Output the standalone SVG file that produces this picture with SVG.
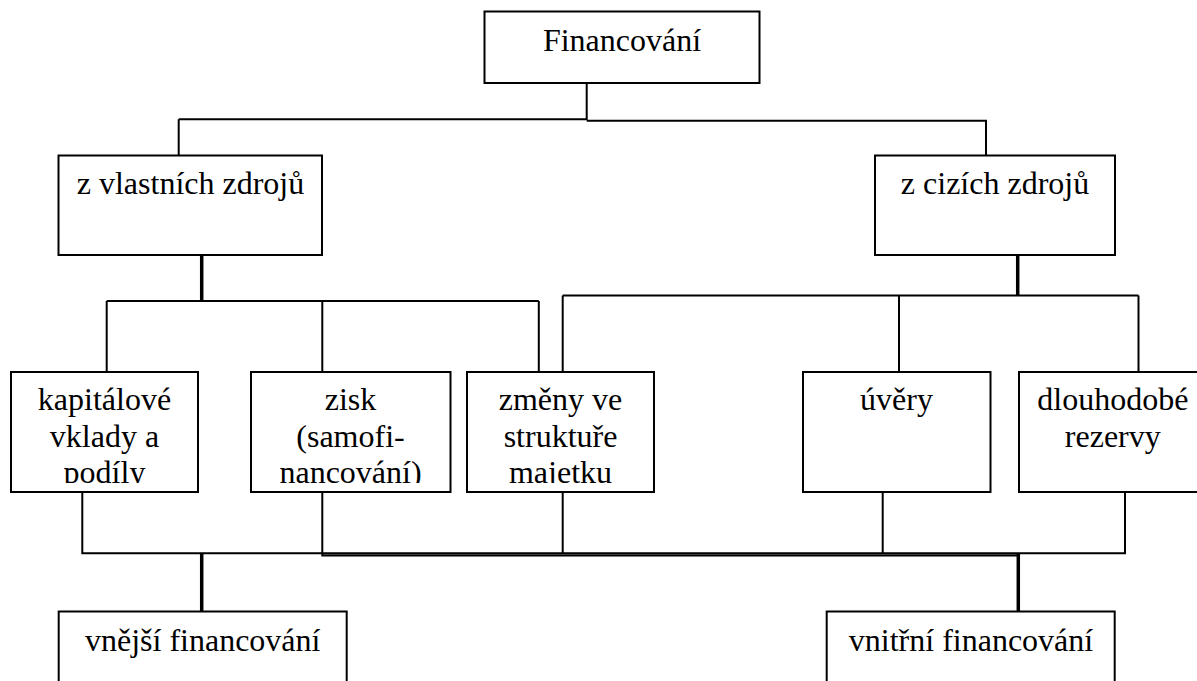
<svg xmlns="http://www.w3.org/2000/svg" width="1197" height="681" viewBox="0 0 1197 681">
<style>
.box{fill:#fff;stroke:#000;stroke-width:2}
.t{font-family:"Liberation Serif","Times New Roman",serif;font-size:32px;fill:#000;text-anchor:middle}
.ln{fill:none;stroke:#000;stroke-width:2}
.thk{fill:none;stroke:#000;stroke-width:3.5}
</style>
<defs>
<clipPath id="c1"><rect x="12" y="373" width="185" height="110"/></clipPath>
<clipPath id="c2"><rect x="252" y="373" width="197" height="110"/></clipPath>
<clipPath id="c3"><rect x="468" y="373" width="185" height="110"/></clipPath>
</defs>
<rect width="1197" height="681" fill="#fff"/>
<g id="connectors">
<path class="ln" d="M586.7,83 V120 M178.7,119.3 H586.7 M178.7,119.3 V155.5 M586.7,120.7 H986 V155.5"/>
<path class="thk" d="M201.7,251 V301"/>
<path class="ln" d="M106.7,301 H538.8 M106.7,301 V372 M322.3,301 V372 M538.8,301 V372"/>
<path class="thk" d="M1017.7,252 V295.5"/>
<path class="ln" d="M562.7,295.5 H1138.5 M562.7,295.5 V372 M899,295.5 V372 M1138.5,295.5 V372"/>
<path class="ln" d="M82.3,492 V553.3 H1125 V492 M322.3,492 V555.5 H1018.3 M562.7,492 V554 M882.7,492 V554"/>
<path class="thk" d="M201.7,553 V617"/>
<path class="thk" d="M1018.3,553 V617"/>
</g>
<g id="n-financovani">
<rect class="box" x="484.5" y="11.5" width="275" height="71.5"/>
<text class="t" x="622" y="50.7">Financování</text>
</g>
<g id="n-vlastni">
<rect class="box" x="58.5" y="155.5" width="263.5" height="99.5"/>
<text class="t" x="190.5" y="194.3">z vlastních zdrojů</text>
</g>
<g id="n-cizi">
<rect class="box" x="875" y="155.5" width="240" height="99.5"/>
<text class="t" x="995" y="194.3">z cizích zdrojů</text>
</g>
<g id="n-kapitalove">
<rect class="box" x="11" y="372" width="187" height="120"/>
<g clip-path="url(#c1)">
<text class="t" x="104.5" y="410">kapitálové</text>
<text class="t" x="104.5" y="446.7">vklady a</text>
<text class="t" x="104.5" y="483.4">podíly</text>
</g>
</g>
<g id="n-zisk">
<rect class="box" x="251" y="372" width="199.5" height="120"/>
<g clip-path="url(#c2)">
<text class="t" x="350.5" y="410">zisk</text>
<text class="t" x="350.5" y="446.7">(samofi-</text>
<text class="t" x="350.5" y="483.4">nancování)</text>
</g>
</g>
<g id="n-zmeny">
<rect class="box" x="467" y="372" width="187" height="120"/>
<g clip-path="url(#c3)">
<text class="t" x="560.5" y="410">změny ve</text>
<text class="t" x="560.5" y="446.7">struktuře</text>
<text class="t" x="560.5" y="483.4">majetku</text>
</g>
</g>
<g id="n-uvery">
<rect class="box" x="803" y="372" width="187.5" height="120"/>
<text class="t" x="896.5" y="410">úvěry</text>
</g>
<g id="n-rezervy">
<rect class="box" x="1019" y="372" width="200" height="120"/>
<text class="t" x="1112.8" y="410">dlouhodobé</text>
<text class="t" x="1112.8" y="446.7">rezervy</text>
</g>
<g id="n-vnejsi">
<rect class="box" x="58.7" y="611.5" width="288" height="100"/>
<text class="t" x="202.7" y="650.5">vnější financování</text>
</g>
<g id="n-vnitrni">
<rect class="box" x="826.7" y="611.5" width="288" height="100"/>
<text class="t" x="971" y="650.5">vnitřní financování</text>
</g>
</svg>
